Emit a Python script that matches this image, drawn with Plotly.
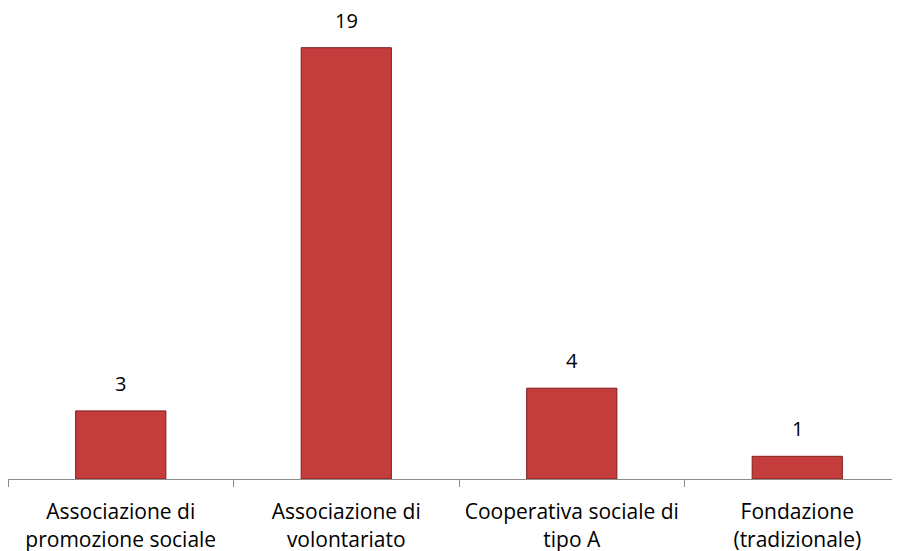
import plotly.graph_objects as go

# dati
categorie = [
    "Associazione di<br>promozione sociale",
    "Associazione di<br>volontariato",
    "Cooperativa sociale di<br>tipo A",
    "Fondazione<br>(tradizionale)",
]
valori = [3, 19, 4, 1]

fig = go.Figure()

fig.add_trace(go.Bar(
    x=categorie,
    y=valori,
    width=0.4,
    marker=dict(color="#C43C3B", line=dict(color="#7E1E1E", width=1)),
    hoverinfo="x+y",
))

# etichette sopra le barre
for c, v in zip(categorie, valori):
    fig.add_annotation(
        x=c, y=v, text=str(v),
        showarrow=False, yanchor="bottom", yshift=12,
        font=dict(size=20, color="#000000"),
    )

# la pagina html ha un margine di 8px sul body
fig.update_layout(
    width=900,
    height=551,
    margin=dict(l=0, r=0, t=17, b=80, autoexpand=False),
    paper_bgcolor="white",
    plot_bgcolor="white",
    font=dict(family="'Open Sans', Lato, sans-serif", size=20, color="#000000"),
    showlegend=False,
    bargap=0.6,
)

fig.update_xaxes(
    type="category",
    range=[-0.5, 3.491],
    showline=True,
    linecolor="#8C8C8C",
    linewidth=1,
    ticks="outside",
    tickson="boundaries",
    ticklen=7,
    tickcolor="#8C8C8C",
    showgrid=False,
    tickfont=dict(size=21),
    ticklabelstandoff=14,
)
fig.update_yaxes(
    range=[0, 20],
    visible=False,
    showgrid=False,
    zeroline=False,
)

fig.write_html("out.html")
